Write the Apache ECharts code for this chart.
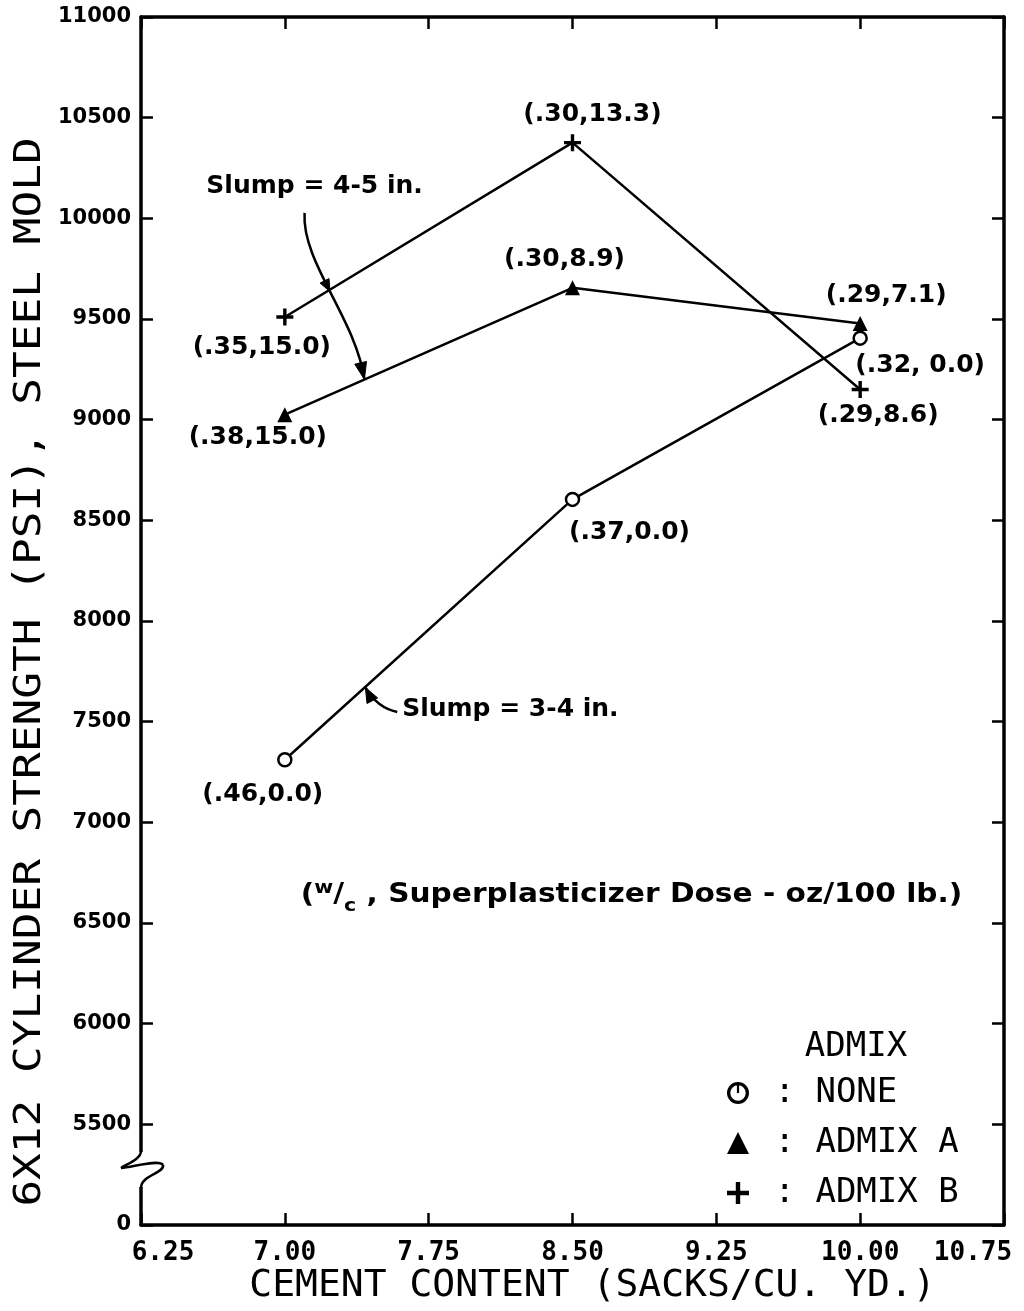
<!DOCTYPE html>
<html>
<head>
<meta charset="utf-8">
<script src="https://cdn.jsdelivr.net/npm/echarts@6/dist/echarts.min.js"></script>
<style>html,body{margin:0;padding:0;background:#fff;overflow:hidden}#c{width:1024px;height:1311px}</style>
</head>
<body>
<div id="c"></div>
<script>
// ---------- data ----------
const cementContent = [7.00, 8.50, 10.00];
const strengthNone = [7311, 8604, 9405];
const strengthAdmixA = [9025, 9655, 9478];
const strengthAdmixB = [9510, 10376, 9150];
const labelsNone = ['(.46,0.0)', '(.37,0.0)', '(.32, 0.0)'];
const labelsAdmixA = ['(.38,15.0)', '(.30,8.9)', '(.29,7.1)'];
const labelsAdmixB = ['(.35,15.0)', '(.30,13.3)', '(.29,8.6)'];
const seriesNames = ['NONE', 'ADMIX A', 'ADMIX B'];
const xMin = 6.25, xMax = 10.75, xStep = 0.75;
const yMin = 5000, yMax = 11000, yStep = 500;
const yTickValues = [5000, 5500, 6000, 6500, 7000, 7500, 8000, 8500, 9000, 9500, 10000, 10500, 11000];
const yTickLabels = ['0', '5500', '6000', '6500', '7000', '7500', '8000', '8500', '9000', '9500', '10000', '10500', '11000'];
const xTitle = 'CEMENT CONTENT (SACKS/CU. YD.)';
const yTitle = '6X12 CYLINDER STRENGTH (PSI), STEEL MOLD';
const legendTitle = 'ADMIX';
const noteSlump45 = 'Slump = 4-5 in.';
const noteSlump34 = 'Slump = 3-4 in.';

// ---------- layout / style (not data) ----------
const F_ANN = '"DejaVu Sans", sans-serif';
const F_MONO = '"DejaVu Sans Mono", monospace';
const labelOffsets = {
  'NONE': [[-22, 35], [57, 33], [60, 27]],
  'ADMIX A': [[-27, 23], [-8, -28], [26, -28]],
  'ADMIX B': [[-23, 31], [20, -28], [18, 26]]
};
const anchors = {
  slump45Text: [7.155, 10156],
  slump34Text: [7.612, 7558],
  wcText: [8.808, 6639],
  arrow1: [[7.103, 10027], [7.087, 9783], [7.368, 9505], [7.415, 9200]],
  arrow2: [[7.586, 7548], [7.482, 7568], [7.42, 7670]],
  axisBreak: [6.25, 5288]
};
const RING = 'path://M10,0A10,10,0,1,1,9.99,0ZM10,3A7,7,0,1,0,10.01,3ZM9,0H11V10H9Z';
const PLUS = 'path://M4,0H6V4H10V6H6V10H4V6H0V4H4Z';

function mkData(ys, labels, offs) {
  return cementContent.map((x, i) => ({
    value: [x, ys[i]],
    label: { formatter: labels[i], offset: offs[i] }
  }));
}

const chart = echarts.init(document.getElementById('c'));

const labelStyle = {
  show: true, position: 'inside', color: '#000', fontFamily: F_ANN,
  fontWeight: 'bold', fontSize: 25, textBorderWidth: 0
};
const axisLineStyle = { show: true, onZero: false, lineStyle: { color: '#000', width: 3.5 } };
const tickStyle = { show: true, inside: true, length: 12, lineStyle: { color: '#000', width: 2.5 } };
const xLabelFont = { fontFamily: F_MONO, fontWeight: 'bold', fontSize: 26, color: '#000' };

chart.setOption({
  animation: false,
  backgroundColor: '#fff',
  grid: { left: 141, right: 20, top: 17, bottom: 86, containLabel: false, outerBoundsMode: 'none' },
  xAxis: [
    {
      type: 'value', min: xMin, max: xMax, interval: xStep, position: 'bottom',
      axisLine: axisLineStyle, axisTick: tickStyle, splitLine: { show: false },
      axisLabel: Object.assign({
        show: true, showMinLabel: true, showMaxLabel: true, margin: 15,
        formatter: v => {
          const s = v.toFixed(2);
          if (Math.abs(v - xMin) < 1e-9) return '{lo|' + s + '}';
          if (Math.abs(v - xMax) < 1e-9) return '{hi|' + s + '}';
          return s;
        },
        rich: {
          lo: Object.assign({ padding: [0, 0, 0, 44] }, xLabelFont),
          hi: Object.assign({ padding: [0, 62, 0, 0] }, xLabelFont)
        }
      }, xLabelFont)
    },
    {
      type: 'value', min: xMin, max: xMax, interval: xStep, position: 'top',
      axisLine: axisLineStyle, axisTick: tickStyle, splitLine: { show: false },
      axisLabel: { show: false }
    }
  ],
  yAxis: [
    {
      type: 'value', min: yMin, max: yMax, interval: yStep, position: 'left',
      axisLine: axisLineStyle, axisTick: tickStyle, splitLine: { show: false },
      axisLabel: {
        show: true, showMinLabel: true, showMaxLabel: true, margin: 10, color: '#000',
        fontFamily: F_ANN, fontWeight: 'bold', fontSize: 21,
        formatter: v => { const i = yTickValues.indexOf(v); return i >= 0 ? yTickLabels[i] : ''; }
      }
    },
    {
      type: 'value', min: yMin, max: yMax, interval: yStep, position: 'right',
      axisLine: axisLineStyle, axisTick: tickStyle, splitLine: { show: false },
      axisLabel: { show: false }
    }
  ],
  legend: {
    orient: 'vertical', left: 722, top: 1070, itemWidth: 22, itemHeight: 22, itemGap: 14,
    selectedMode: false,
    formatter: n => ' : ' + n,
    textStyle: { fontFamily: F_MONO, fontSize: 34, color: '#000', lineHeight: 36 },
    data: [
      { name: seriesNames[0], icon: RING, itemStyle: { color: '#000', borderWidth: 0 } },
      { name: seriesNames[1], icon: 'triangle', itemStyle: { color: '#000', borderWidth: 0 } },
      { name: seriesNames[2], icon: PLUS, itemStyle: { color: '#000', borderWidth: 0 } }
    ]
  },
  series: [
    {
      type: 'line', name: seriesNames[0], xAxisIndex: 0, yAxisIndex: 0,
      data: mkData(strengthNone, labelsNone, labelOffsets['NONE']),
      symbol: 'circle', symbolSize: 13,
      itemStyle: { color: '#fff', borderColor: '#000', borderWidth: 2.5 },
      lineStyle: { color: '#000', width: 2.5 },
      label: labelStyle, z: 3
    },
    {
      type: 'line', name: seriesNames[1], xAxisIndex: 0, yAxisIndex: 0,
      data: mkData(strengthAdmixA, labelsAdmixA, labelOffsets['ADMIX A']),
      symbol: 'triangle', symbolSize: 15,
      itemStyle: { color: '#000', borderWidth: 0 },
      lineStyle: { color: '#000', width: 2.5 },
      label: labelStyle, z: 3
    },
    {
      type: 'line', name: seriesNames[2], xAxisIndex: 0, yAxisIndex: 0,
      data: mkData(strengthAdmixB, labelsAdmixB, labelOffsets['ADMIX B']),
      symbol: PLUS, symbolSize: 17,
      itemStyle: { color: '#000', borderWidth: 0 },
      lineStyle: { color: '#000', width: 2.5 },
      label: labelStyle, z: 3
    }
  ]
});

// ---------- annotations ----------
function P(pt) { return chart.convertToPixel({ xAxisIndex: 0, yAxisIndex: 0 }, pt); }
function arrowHead(tip, from, len, hw) {
  const dx = tip[0] - from[0], dy = tip[1] - from[1];
  const d = Math.hypot(dx, dy) || 1;
  const ux = dx / d, uy = dy / d;
  const bx = tip[0] - ux * len, by = tip[1] - uy * len;
  return {
    type: 'polygon', z: 10,
    shape: { points: [tip, [bx - uy * hw, by + ux * hw], [bx + uy * hw, by - ux * hw]] },
    style: { fill: '#000', stroke: '#000', lineWidth: 1 }
  };
}
function cubic(p, t) {
  const m = 1 - t;
  return [
    m * m * m * p[0][0] + 3 * m * m * t * p[1][0] + 3 * m * t * t * p[2][0] + t * t * t * p[3][0],
    m * m * m * p[0][1] + 3 * m * m * t * p[1][1] + 3 * m * t * t * p[2][1] + t * t * t * p[3][1]
  ];
}
function bez(x1, y1, c1x, c1y, c2x, c2y, x2, y2, z) {
  return {
    type: 'bezierCurve', z: z || 10,
    shape: { x1: x1, y1: y1, cpx1: c1x, cpy1: c1y, cpx2: c2x, cpy2: c2y, x2: x2, y2: y2 },
    style: { stroke: '#000', lineWidth: 2.5, fill: null }
  };
}

const a1 = anchors.arrow1.map(P);
const a2 = anchors.arrow2.map(P);
// crossing of arrow 1 with ADMIX B line (first segment)
const b0 = P([cementContent[0], strengthAdmixB[0]]);
const b1 = P([cementContent[1], strengthAdmixB[1]]);
function sideB(pt) { return (b1[0] - b0[0]) * (pt[1] - b0[1]) - (b1[1] - b0[1]) * (pt[0] - b0[0]); }
let tCross = 0.3, prev = cubic(a1, 0);
for (let t = 0.01; t <= 1; t += 0.01) {
  const cur = cubic(a1, t);
  if (sideB(prev) * sideB(cur) <= 0) { tCross = t; break; }
  prev = cur;
}
const cross = cubic(a1, tCross);
const crossPrev = cubic(a1, tCross - 0.05);

const tx = P(anchors.slump45Text), tx2 = P(anchors.slump34Text), tw = P(anchors.wcText);
const br = P(anchors.axisBreak);
const ax = br[0], ay = br[1];
const plotCenterX = (P([xMin, yMin])[0] + P([xMax, yMin])[0]) / 2;

chart.setOption({
  graphic: [
    {
      type: 'text', x: 30, y: 672, rotation: Math.PI / 2, scaleX: 1.2,
      style: { text: yTitle, font: '37px ' + F_MONO, fill: '#000', textAlign: 'center', textVerticalAlign: 'middle' }
    },
    {
      type: 'text', x: plotCenterX + 20, y: 1286,
      style: { text: xTitle, font: '38px ' + F_MONO, fill: '#000', textAlign: 'center', textVerticalAlign: 'middle' }
    },
    {
      type: 'text', x: 856, y: 1047,
      style: { text: legendTitle, font: '34px ' + F_MONO, fill: '#000', textAlign: 'center', textVerticalAlign: 'middle' }
    },
    {
      type: 'text', x: tx[0], y: tx[1],
      style: { text: noteSlump45, font: 'bold 25px ' + F_ANN, fill: '#000', textAlign: 'center', textVerticalAlign: 'middle' }
    },
    {
      type: 'text', x: tx2[0], y: tx2[1],
      style: { text: noteSlump34, font: 'bold 25px ' + F_ANN, fill: '#000', textAlign: 'left', textVerticalAlign: 'middle' }
    },
    {
      type: 'text', x: tw[0], y: tw[1], scaleX: 1.14,
      style: {
        text: '{n|(}{s|w}{n|/}{b|c}{n| , Superplasticizer Dose - oz/100 lb.)}',
        textAlign: 'center', textVerticalAlign: 'middle', fill: '#000',
        rich: {
          n: { fontFamily: F_ANN, fontWeight: 'bold', fontSize: 26, lineHeight: 40, color: '#000' },
          s: { fontFamily: F_ANN, fontWeight: 'bold', fontSize: 18, lineHeight: 40, verticalAlign: 'top', padding: [4, 0, 0, 0], color: '#000' },
          b: { fontFamily: F_ANN, fontWeight: 'bold', fontSize: 18, lineHeight: 40, verticalAlign: 'bottom', color: '#000' }
        }
      }
    },
    bez(a1[0][0], a1[0][1], a1[1][0], a1[1][1], a1[2][0], a1[2][1], a1[3][0], a1[3][1]),
    arrowHead(a1[3], cubic(a1, 0.88), 17, 6),
    arrowHead(cross, crossPrev, 12, 5),
    {
      type: 'bezierCurve', z: 10,
      shape: { x1: a2[0][0], y1: a2[0][1], cpx1: a2[1][0], cpy1: a2[1][1], x2: a2[2][0], y2: a2[2][1] },
      style: { stroke: '#000', lineWidth: 2.5, fill: null }
    },
    arrowHead(a2[2], [a2[1][0] + 2, a2[1][1] + 6], 15, 6),
    {
      type: 'rect', z: 20,
      shape: { x: ax - 4, y: ay - 15, width: 8, height: 35 },
      style: { fill: '#fff', stroke: null }
    },
    bez(ax, ay - 16, ax, ay - 8, ax - 14, ay - 3, ax - 20, ay + 1, 21),
    bez(ax - 20, ay + 1, ax - 8, ay, ax + 18, ay - 8, ax + 22, ay - 2, 21),
    bez(ax + 22, ay - 2, ax + 24, ay + 6, ax, ay + 8, ax, ay + 21, 21)
  ]
});
</script>
</body>
</html>
